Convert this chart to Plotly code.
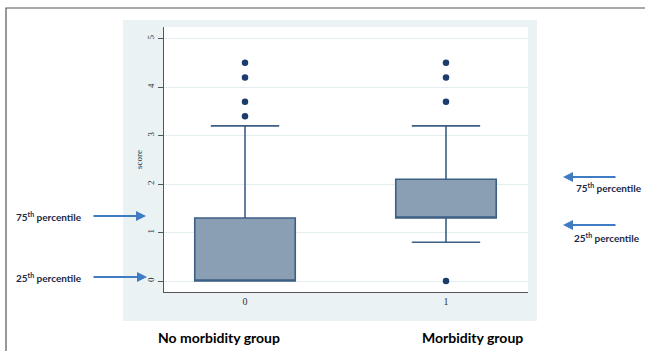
import plotly.graph_objects as go

# ---- data ----
groups = [0, 1]
group_labels = ["0", "1"]
q1 = [0.0, 1.3]
median = [0.0, 1.3]
q3 = [1.3, 2.1]
lower_whisker = [0.0, 0.8]
upper_whisker = [3.2, 3.2]
outlier_group = [0, 0, 0, 0, 1, 1, 1, 1]
outlier_score = [4.5, 4.2, 3.7, 3.4, 4.5, 4.2, 3.7, 0.0]
y_ticks = [0, 1, 2, 3, 4, 5]
group_names = ["No morbidity group", "Morbidity group"]

W, H = 645, 351
L, R, T, B = 164, 528, 27, 292  # plot-area pixel edges


def px(x):
    return (x - L) / (R - L)


def py(y):
    return (B - y) / (B - T)


BOX_FILL = "#8a9fb3"
BOX_LINE = "#3c5f86"
DOT = "#1b3c6c"
ARROW = "#3f7cc4"

fig = go.Figure()
for i, g in enumerate(groups):
    fig.add_trace(go.Box(
        x=[g], q1=[q1[i]], median=[median[i]], q3=[q3[i]],
        lowerfence=[lower_whisker[i]], upperfence=[upper_whisker[i]],
        width=0.5, whiskerwidth=0.68,
        fillcolor=BOX_FILL, line=dict(color=BOX_LINE, width=1.6),
        boxpoints=False, showlegend=False, hoverinfo="skip",
    ))

fig.add_trace(go.Scatter(
    x=outlier_group, y=outlier_score, mode="markers",
    marker=dict(color=DOT, size=6.5), showlegend=False, hoverinfo="skip",
))

shapes = [
    # outer frame
    dict(type="rect", xref="paper", yref="paper", x0=px(6), x1=px(700), y0=py(8), y1=py(420),
         line=dict(color="#555555", width=1.2), fillcolor="rgba(0,0,0,0)", layer="below"),
    # light blue graph region
    dict(type="rect", xref="paper", yref="paper", x0=px(123), x1=px(537), y0=py(20), y1=py(321),
         line=dict(width=0), fillcolor="#eaf2f4", layer="below"),
    # white plot region
    dict(type="rect", xref="paper", yref="paper", x0=0, x1=1, y0=0, y1=1,
         line=dict(width=0), fillcolor="white", layer="below"),
]

annotations = []
lab_font = dict(family="Lato, Liberation Sans, sans-serif", size=10, color="#1a2a4a")


def arrow(x_head, x_tail, y):
    annotations.append(dict(
        xref="paper", yref="paper", x=px(x_head), y=py(y), ax=x_tail - x_head, ay=0,
        text="", showarrow=True, arrowhead=2, arrowsize=1, arrowwidth=2, arrowcolor=ARROW,
    ))


def label(x, y, txt, anchor="left"):
    annotations.append(dict(
        xref="paper", yref="paper", x=px(x), y=py(y), text=txt, showarrow=False,
        xanchor=anchor, yanchor="middle", font=lab_font,
    ))


arrow(146, 92, 216)
arrow(147, 92, 277)
label(14, 216, "<b>75<sup>th</sup> percentile</b>")
label(14, 277, "<b>25<sup>th</sup> percentile</b>")
arrow(563, 617, 177)
arrow(563, 617, 225)
label(574, 187, "<b>75<sup>th</sup> percentile</b>")
label(572, 237, "<b>25<sup>th</sup> percentile</b>")

name_font = dict(family="Lato, Liberation Sans, sans-serif", size=14, color="black")
annotations.append(dict(xref="x", yref="paper", x=groups[0] - 0.13, y=py(337), text="<b>" + group_names[0] + "</b>",
                        showarrow=False, xanchor="center", yanchor="middle", font=name_font))
annotations.append(dict(xref="x", yref="paper", x=groups[1] + 0.13, y=py(337), text="<b>" + group_names[1] + "</b>",
                        showarrow=False, xanchor="center", yanchor="middle", font=name_font))

fig.update_layout(
    width=W, height=H,
    margin=dict(l=L, r=W - R, t=T, b=H - B, pad=0),
    paper_bgcolor="white", plot_bgcolor="white",
    shapes=shapes, annotations=annotations,
    font=dict(family="Liberation Serif, serif", size=10, color="#333333"),
    showlegend=False, hovermode=False,
)
fig.update_xaxes(
    range=[-0.403, 1.408], tickvals=groups, ticktext=group_labels,
    showgrid=False, zeroline=False, showline=True, linecolor="#555555", linewidth=1.2,
    ticks="", tickfont=dict(size=10, family="Liberation Serif, serif", color="#333333"),
)
fig.update_yaxes(
    range=[-0.227, 5.24], tickvals=y_ticks, tickangle=-90,
    showgrid=True, gridcolor="#e3eef1", gridwidth=1, zeroline=False,
    showline=True, linecolor="#555555", linewidth=1.2,
    ticks="outside", ticklen=5, tickcolor="#555555",
    tickfont=dict(size=9, family="Liberation Serif, serif", color="#333333"),
    title=dict(text="score", font=dict(size=9, family="Liberation Serif, serif", color="#333333"), standoff=2),
)

fig.write_html(
    "out.html",
    config={"displayModeBar": False},
    post_script="document.body.style.margin='0';document.body.style.overflow='hidden';",
)
